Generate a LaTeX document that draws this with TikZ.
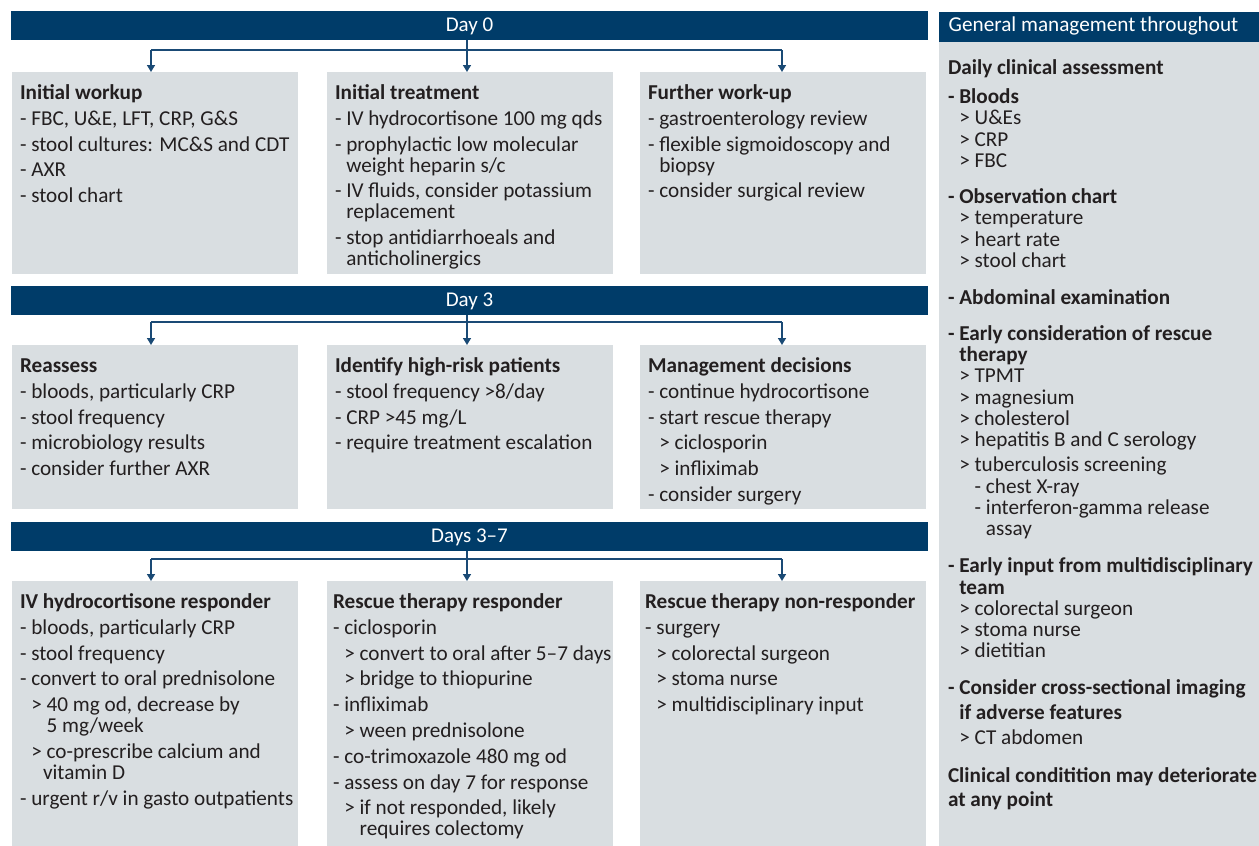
\documentclass[tikz,border=0pt]{standalone}
\usepackage{fontspec}
\setmainfont{Carlito}
\usetikzlibrary{arrows.meta}
\definecolor{navy}{HTML}{003C69}
\definecolor{panel}{HTML}{D9DEE1}
\definecolor{ink}{HTML}{231F20}
\definecolor{linkc}{HTML}{1A4A75}
\newcommand\sk{\\[4.8pt]}
\newcommand\dd{\phantom{- }}
\newcommand\ind{\phantom{> }}
\newcommand\bd{\phantom{\textbf{- }}}
\newcommand\rowtext[2]{\parbox[t]{#1}{\fontsize{21.2}{21}\selectfont\raggedright #2}}
\tikzset{
  bar/.style={fill=navy, draw=none, inner sep=0pt, outer sep=0pt, anchor=north west},
  box/.style={fill=panel, draw=none, inner sep=0pt, outer sep=0pt, anchor=north west},
  txt/.style={anchor=base west, inner sep=0pt, outer sep=0pt, text=ink},
  bartxt/.style={anchor=base, inner sep=0pt, text=white, font=\fontsize{21}{21}\selectfont},
  conn/.style={draw=linkc, line width=1.5pt},
  arr/.style={conn, -{Triangle[width=8pt,length=7pt]}}
}
\begin{document}
\begin{tikzpicture}[x=1pt,y=-1pt]
\useasboundingbox (0,0) rectangle (1259,846);
% ---------- bars ----------
\node[bar, minimum width=917pt, minimum height=29pt] (day0) at (11,11) {};
\node[bartxt] (day0t) at (469.5,31) {Day 0};
\node[bar, minimum width=917pt, minimum height=29pt] (day3) at (11,286) {};
\node[bartxt] (day3t) at (469.5,306) {Day 3};
\node[bar, minimum width=917pt, minimum height=29pt] (day37) at (11,522) {};
\node[bartxt] (day37t) at (469.5,542) {Days 3–7};
% ---------- boxes ----------
\node[box, minimum width=286pt, minimum height=202pt] (b11) at (12,72) {};
\node[box, minimum width=286pt, minimum height=202pt] (b12) at (327,72) {};
\node[box, minimum width=286pt, minimum height=202pt] (b13) at (640,72) {};
\node[box, minimum width=286pt, minimum height=164pt] (b21) at (12,345) {};
\node[box, minimum width=286pt, minimum height=164pt] (b22) at (327,345) {};
\node[box, minimum width=286pt, minimum height=164pt] (b23) at (640,345) {};
\node[box, minimum width=286pt, minimum height=265pt] (b31) at (12,581) {};
\node[box, minimum width=286pt, minimum height=265pt] (b32) at (327,581) {};
\node[box, minimum width=286pt, minimum height=265pt] (b33) at (640,581) {};
% right panel
\node[bar, minimum width=320pt, minimum height=30pt] (gmh) at (939,12) {};
\node[box, minimum width=320pt, minimum height=804pt] (gmb) at (939,42) {};
\node[anchor=base west, inner sep=0pt, text=white, font=\fontsize{21.2}{21}\selectfont] (gmt) at (948.5,31) {General management throughout};
% ---------- connectors ----------
\coordinate (a11) at ([xshift=-4pt]b11.north);
\coordinate (a12) at ([xshift=-3pt]b12.north);
\coordinate (a13) at ([xshift=-1pt]b13.north);
\coordinate (h1) at ([yshift=-10pt]day0.south);
\draw[conn] (h1 -| a11) -- (h1 -| a13);
\draw[arr] (h1 -| a11) -- (a11);
\draw[arr] (h1 -| a13) -- (a13);
\draw[arr] (day0.south -| a12) -- (a12);
\coordinate (a21) at ([xshift=-4pt]b21.north);
\coordinate (a22) at ([xshift=-3pt]b22.north);
\coordinate (a23) at ([xshift=-1pt]b23.north);
\coordinate (h2) at ([yshift=-7pt]day3.south);
\draw[conn] (h2 -| a21) -- (h2 -| a23);
\draw[arr] (h2 -| a21) -- (a21);
\draw[arr] (h2 -| a23) -- (a23);
\draw[arr] (day3.south -| a22) -- (a22);
\coordinate (a31) at ([xshift=-4pt]b31.north);
\coordinate (a32) at ([xshift=-3pt]b32.north);
\coordinate (a33) at ([xshift=-1pt]b33.north);
\coordinate (h3) at ([yshift=-8pt]day37.south);
\draw[conn] (h3 -| a31) -- (h3 -| a33);
\draw[arr] (h3 -| a31) -- (a31);
\draw[arr] (h3 -| a33) -- (a33);
\draw[arr] (day37.south -| a32) -- (a32);
% ---------- row 1 texts ----------
\node[txt] (t11) at (20,99.5) {\rowtext{280pt}{%
\textbf{Initial workup}\sk
- FBC, U\&E, LFT, CRP, G\&S\sk
- stool cultures: MC\&S and CDT\sk
- AXR\sk
- stool chart}};
\node[txt] (t12) at (335,99.5) {\rowtext{280pt}{%
\textbf{Initial treatment}\sk
- IV hydrocortisone 100 mg qds\sk
- prophylactic low molecular\\
\dd weight heparin s/c\sk
- IV fluids, consider potassium\\
\dd replacement\sk
- stop antidiarrhoeals and\\
\dd anticholinergics}};
\node[txt] (t13) at (648,99.5) {\rowtext{280pt}{%
\textbf{Further work-up}\sk
- gastroenterology review\sk
- flexible sigmoidoscopy and\\
\dd biopsy\sk
- consider surgical review}};
% ---------- row 2 texts ----------
\node[txt] (t21) at (20,372.5) {\rowtext{280pt}{%
\textbf{Reassess}\sk
- bloods, particularly CRP\sk
- stool frequency\sk
- microbiology results\sk
- consider further AXR}};
\node[txt] (t22) at (335,372.5) {\rowtext{280pt}{%
\textbf{Identify high-risk patients}\sk
- stool frequency >8/day\sk
- CRP >45 mg/L\sk
- require treatment escalation}};
\node[txt] (t23) at (648,372.5) {\rowtext{280pt}{%
\textbf{Management decisions}\sk
- continue hydrocortisone\sk
- start rescue therapy\sk
\dd> ciclosporin\sk
\dd> infliximab\sk
- consider surgery}};
% ---------- row 3 texts ----------
\node[txt] (t31) at (20,608.5) {\rowtext{280pt}{%
\textbf{IV hydrocortisone responder}\sk
- bloods, particularly CRP\sk
- stool frequency\sk
- convert to oral prednisolone\sk
\dd> 40 mg od, decrease by\\
\dd\ind 5 mg/week\sk
\dd> co-prescribe calcium and\\
\hspace*{23pt}vitamin D\sk
- urgent r/v in gasto outpatients}};
\node[txt] (t32) at (333,608.5) {\rowtext{280pt}{%
\textbf{Rescue therapy responder}\sk
- ciclosporin\sk
\dd> convert to oral after 5–7 days\sk
\dd> bridge to thiopurine\sk
- infliximab\sk
\dd> ween prednisolone\sk
- co-trimoxazole 480 mg od\sk
- assess on day 7 for response\sk
\dd> if not responded, likely\\
\dd\ind requires colectomy}};
\node[txt] (t33) at (645,608.5) {\rowtext{280pt}{%
\textbf{Rescue therapy non-responder}\sk
- surgery\sk
\dd> colorectal surgeon\sk
\dd> stoma nurse\sk
\dd> multidisciplinary input}};
% ---------- right panel text ----------
\node[txt] (tgm) at (948,74.5) {\parbox[t]{320pt}{\fontsize{21.2}{21.3}\selectfont\raggedright
\textbf{Daily clinical assessment}\\[7.7pt]
\textbf{- Bloods}\\
\bd> U\&Es\\
\bd> CRP\\
\bd> FBC\\[14.7pt]
\textbf{- Observation chart}\\
\bd> temperature\\
\bd> heart rate\\
\bd> stool chart\\[15.7pt]
\textbf{- Abdominal examination}\\[14.7pt]
\textbf{- Early consideration of rescue}\\
\bd\textbf{therapy}\\
\bd> TPMT\\
\bd> magnesium\\
\bd> cholesterol\\
\bd> hepatitis B and C serology\\[3.7pt]
\bd> tuberculosis screening\\
\bd\ind- chest X-ray\\
\bd\ind- interferon-gamma release\\
\bd\ind\dd assay\\[15.7pt]
\textbf{- Early input from multidisciplinary}\\
\bd\textbf{team}\\
\bd> colorectal surgeon\\
\bd> stoma nurse\\
\bd> dietitian\\[15.7pt]
\textbf{- Consider cross-sectional imaging}\\[3.7pt]
\bd\textbf{if adverse features}\\[3.7pt]
\bd> CT abdomen\\[16.7pt]
\textbf{Clinical conditition may deteriorate}\\[2.7pt]
\textbf{at any point}}};
\end{tikzpicture}
\end{document}
